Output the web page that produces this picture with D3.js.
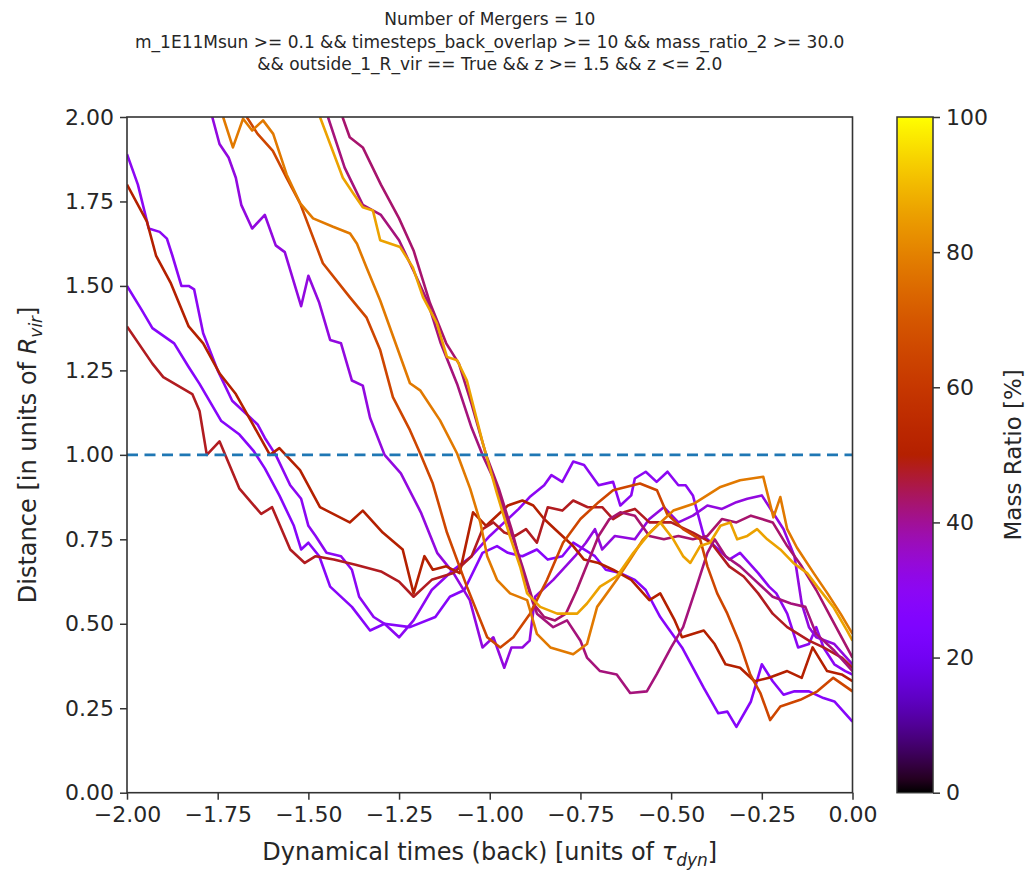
<!DOCTYPE html>
<html>
<head>
<meta charset="utf-8">
<script src="https://cdn.jsdelivr.net/npm/d3@7"></script>
<style>
  body { margin: 0; background: #fff; }
  text { font-family: "DejaVu Sans", sans-serif; fill: #262626; }
</style>
</head>
<body>
<div id="chart"></div>
<script>
var titleLines = [
    "Number of Mergers = 10",
    "m_1E11Msun >= 0.1 && timesteps_back_overlap >= 10 && mass_ratio_2 >= 30.0",
    "&& outside_1_R_vir == True && z >= 1.5 && z <= 2.0"
];

var xTicks = [-2.00, -1.75, -1.50, -1.25, -1.00, -0.75, -0.50, -0.25, 0.00];
var yTicks = [0.00, 0.25, 0.50, 0.75, 1.00, 1.25, 1.50, 1.75, 2.00];
var cbarTicks = [0, 20, 40, 60, 80, 100];
var thresholdLine = 1.0;

// mass ratio [%] of each merger, same order as the tracks below
var massRatios = [30, 28, 33, 50, 48, 42, 43, 65, 78, 86];

// [time back, distance] for each merger
var trackP1 = [[-2.00,1.89],[-1.97,1.80],[-1.94,1.67],[-1.91,1.66],[-1.89,1.64],[-1.875,1.59],[-1.85,1.50],[-1.83,1.50],[-1.815,1.49],[-1.79,1.36],[-1.75,1.25],[-1.71,1.16],[-1.67,1.12],[-1.64,1.09],[-1.62,1.05],[-1.59,1.00],[-1.55,0.91],[-1.52,0.87],[-1.50,0.79],[-1.48,0.76],[-1.45,0.71],[-1.41,0.70],[-1.38,0.66],[-1.36,0.58],[-1.32,0.52],[-1.29,0.50],[-1.25,0.46],[-1.21,0.51],[-1.16,0.60],[-1.10,0.66],[-1.05,0.70],[-1.00,0.76],[-0.96,0.80],[-0.92,0.84],[-0.89,0.875],[-0.85,0.91],[-0.83,0.94],[-0.80,0.92],[-0.77,0.98],[-0.74,0.97],[-0.70,0.91],[-0.66,0.92],[-0.64,0.85],[-0.61,0.88],[-0.60,0.93],[-0.57,0.95],[-0.54,0.92],[-0.51,0.95],[-0.48,0.91],[-0.46,0.91],[-0.44,0.88],[-0.41,0.76],[-0.38,0.73],[-0.34,0.69],[-0.31,0.71],[-0.26,0.65],[-0.23,0.61],[-0.21,0.59],[-0.18,0.53],[-0.15,0.43],[-0.12,0.44],[-0.10,0.49],[-0.08,0.43],[-0.05,0.38],[-0.02,0.36],[0.00,0.35]];
var trackP2 = [[-2.00,1.50],[-1.96,1.43],[-1.93,1.375],[-1.87,1.33],[-1.83,1.26],[-1.80,1.21],[-1.74,1.10],[-1.69,1.06],[-1.65,1.01],[-1.62,0.96],[-1.58,0.88],[-1.54,0.79],[-1.52,0.72],[-1.50,0.74],[-1.47,0.70],[-1.44,0.61],[-1.38,0.55],[-1.33,0.48],[-1.29,0.50],[-1.22,0.49],[-1.15,0.52],[-1.11,0.58],[-1.07,0.60],[-1.02,0.71],[-0.98,0.73],[-0.95,0.71],[-0.91,0.70],[-0.87,0.72],[-0.84,0.69],[-0.80,0.70],[-0.77,0.74],[-0.74,0.72],[-0.71,0.70],[-0.68,0.66],[-0.64,0.65],[-0.60,0.63],[-0.57,0.60],[-0.53,0.52],[-0.51,0.49],[-0.47,0.43],[-0.44,0.37],[-0.41,0.31],[-0.37,0.235],[-0.345,0.24],[-0.32,0.195],[-0.28,0.27],[-0.25,0.38],[-0.22,0.33],[-0.19,0.29],[-0.16,0.30],[-0.12,0.30],[-0.08,0.28],[-0.05,0.27],[0.00,0.21]];
var trackP3 = [[-1.765,2.00],[-1.745,1.92],[-1.72,1.88],[-1.70,1.82],[-1.685,1.74],[-1.655,1.67],[-1.62,1.71],[-1.59,1.62],[-1.565,1.60],[-1.52,1.44],[-1.50,1.53],[-1.47,1.45],[-1.44,1.34],[-1.41,1.33],[-1.38,1.22],[-1.35,1.205],[-1.33,1.11],[-1.29,1.00],[-1.245,0.945],[-1.19,0.83],[-1.145,0.71],[-1.10,0.65],[-1.055,0.57],[-1.02,0.43],[-0.99,0.46],[-0.96,0.37],[-0.94,0.43],[-0.91,0.43],[-0.89,0.45],[-0.875,0.58],[-0.825,0.63],[-0.765,0.70],[-0.735,0.74],[-0.71,0.78],[-0.69,0.72],[-0.655,0.76],[-0.60,0.75],[-0.56,0.81],[-0.52,0.845],[-0.48,0.80],[-0.44,0.82],[-0.40,0.85],[-0.36,0.84],[-0.32,0.86],[-0.29,0.87],[-0.25,0.88],[-0.22,0.83],[-0.19,0.78],[-0.16,0.70],[-0.14,0.56],[-0.12,0.49],[-0.10,0.46],[-0.05,0.44],[0.00,0.38]];
var trackR1 = [[-2.00,1.80],[-1.945,1.69],[-1.92,1.59],[-1.88,1.51],[-1.83,1.38],[-1.79,1.33],[-1.744,1.24],[-1.70,1.18],[-1.653,1.09],[-1.606,1.00],[-1.58,1.02],[-1.523,0.955],[-1.468,0.845],[-1.386,0.80],[-1.35,0.835],[-1.295,0.77],[-1.24,0.72],[-1.21,0.59],[-1.18,0.70],[-1.157,0.66],[-1.12,0.67],[-1.083,0.65],[-1.046,0.83],[-1.01,0.79],[-0.97,0.83],[-0.95,0.85],[-0.91,0.865],[-0.88,0.85],[-0.85,0.81],[-0.82,0.78],[-0.77,0.73],[-0.74,0.69],[-0.70,0.68],[-0.66,0.66],[-0.61,0.63],[-0.56,0.57],[-0.53,0.59],[-0.49,0.51],[-0.47,0.46],[-0.41,0.48],[-0.38,0.44],[-0.35,0.38],[-0.31,0.37],[-0.27,0.33],[-0.23,0.34],[-0.18,0.36],[-0.14,0.34],[-0.11,0.43],[-0.07,0.36],[-0.03,0.35],[0.00,0.33]];
var trackR2 = [[-2.00,1.38],[-1.93,1.27],[-1.90,1.23],[-1.82,1.18],[-1.80,1.13],[-1.78,1.00],[-1.745,1.04],[-1.69,0.90],[-1.63,0.825],[-1.60,0.845],[-1.55,0.72],[-1.51,0.68],[-1.48,0.70],[-1.43,0.69],[-1.37,0.675],[-1.30,0.655],[-1.25,0.625],[-1.21,0.58],[-1.16,0.63],[-1.10,0.65],[-1.05,0.70],[-1.02,0.78],[-0.99,0.80],[-0.96,0.77],[-0.93,0.76],[-0.90,0.78],[-0.87,0.74],[-0.84,0.845],[-0.80,0.835],[-0.77,0.865],[-0.73,0.845],[-0.69,0.845],[-0.66,0.81],[-0.63,0.83],[-0.60,0.84],[-0.56,0.80],[-0.50,0.80],[-0.44,0.77],[-0.39,0.74],[-0.34,0.67],[-0.30,0.64],[-0.26,0.59],[-0.22,0.53],[-0.18,0.49],[-0.12,0.45],[-0.08,0.43],[-0.03,0.40],[0.00,0.37]];
var trackPL1 = [[-1.446,2.00],[-1.40,1.85],[-1.35,1.74],[-1.30,1.71],[-1.25,1.635],[-1.21,1.545],[-1.17,1.45],[-1.135,1.33],[-1.09,1.21],[-1.05,1.08],[-1.02,1.00],[-0.99,0.93],[-0.95,0.80],[-0.91,0.67],[-0.87,0.53],[-0.825,0.49],[-0.787,0.51],[-0.75,0.45],[-0.732,0.40],[-0.696,0.36],[-0.65,0.35],[-0.613,0.295],[-0.567,0.30],[-0.54,0.35],[-0.50,0.43],[-0.467,0.49],[-0.43,0.61],[-0.40,0.71],[-0.38,0.75],[-0.35,0.70],[-0.31,0.67],[-0.27,0.63],[-0.22,0.58],[-0.17,0.56],[-0.13,0.55],[-0.10,0.47],[-0.05,0.42],[0.00,0.36]];
var trackPL2 = [[-1.406,2.00],[-1.386,1.94],[-1.35,1.91],[-1.30,1.80],[-1.25,1.70],[-1.21,1.605],[-1.165,1.45],[-1.12,1.33],[-1.085,1.27],[-1.05,1.15],[-1.01,1.00],[-0.975,0.90],[-0.94,0.78],[-0.91,0.66],[-0.88,0.56],[-0.85,0.52],[-0.82,0.51],[-0.79,0.53],[-0.76,0.60],[-0.73,0.68],[-0.70,0.76],[-0.67,0.81],[-0.64,0.83],[-0.60,0.82],[-0.56,0.76],[-0.52,0.75],[-0.48,0.76],[-0.44,0.75],[-0.40,0.76],[-0.36,0.81],[-0.32,0.80],[-0.28,0.82],[-0.25,0.81],[-0.22,0.80],[-0.18,0.73],[-0.14,0.67],[-0.10,0.60],[-0.06,0.52],[-0.03,0.46],[0.00,0.40]];
var trackO1 = [[-1.67,2.00],[-1.64,1.95],[-1.598,1.90],[-1.56,1.82],[-1.523,1.745],[-1.46,1.567],[-1.386,1.467],[-1.34,1.407],[-1.302,1.31],[-1.267,1.171],[-1.22,1.073],[-1.192,1.005],[-1.157,0.915],[-1.118,0.77],[-1.063,0.61],[-1.007,0.46],[-0.971,0.43],[-0.935,0.46],[-0.889,0.53],[-0.842,0.63],[-0.798,0.74],[-0.75,0.81],[-0.70,0.86],[-0.66,0.895],[-0.586,0.915],[-0.539,0.895],[-0.511,0.825],[-0.467,0.78],[-0.42,0.75],[-0.40,0.67],[-0.373,0.59],[-0.345,0.53],[-0.31,0.44],[-0.282,0.35],[-0.254,0.295],[-0.227,0.215],[-0.199,0.255],[-0.144,0.275],[-0.097,0.30],[-0.053,0.34],[0.00,0.30]];
var trackO2 = [[-1.735,2.00],[-1.708,1.91],[-1.68,1.995],[-1.655,1.96],[-1.625,1.99],[-1.597,1.95],[-1.56,1.83],[-1.523,1.745],[-1.487,1.70],[-1.432,1.675],[-1.385,1.655],[-1.366,1.625],[-1.34,1.555],[-1.302,1.457],[-1.22,1.212],[-1.192,1.191],[-1.137,1.102],[-1.09,1.004],[-1.054,0.90],[-1.026,0.80],[-1.007,0.70],[-0.98,0.63],[-0.944,0.59],[-0.897,0.57],[-0.87,0.47],[-0.833,0.43],[-0.77,0.41],[-0.732,0.44],[-0.704,0.55],[-0.65,0.63],[-0.613,0.69],[-0.577,0.75],[-0.539,0.79],[-0.494,0.835],[-0.438,0.855],[-0.364,0.905],[-0.31,0.925],[-0.246,0.935],[-0.218,0.815],[-0.199,0.875],[-0.18,0.78],[-0.153,0.725],[-0.107,0.65],[-0.069,0.59],[-0.033,0.53],[0.00,0.47]];
var trackO3 = [[-1.468,2.00],[-1.405,1.82],[-1.377,1.775],[-1.35,1.733],[-1.322,1.723],[-1.302,1.635],[-1.247,1.615],[-1.212,1.555],[-1.184,1.467],[-1.146,1.39],[-1.118,1.29],[-1.09,1.28],[-1.063,1.22],[-1.019,1.034],[-0.98,0.885],[-0.944,0.757],[-0.916,0.668],[-0.897,0.59],[-0.861,0.55],[-0.814,0.53],[-0.759,0.53],[-0.732,0.56],[-0.696,0.61],[-0.65,0.64],[-0.604,0.71],[-0.558,0.77],[-0.53,0.80],[-0.494,0.75],[-0.467,0.70],[-0.447,0.68],[-0.42,0.73],[-0.393,0.74],[-0.364,0.79],[-0.337,0.80],[-0.318,0.75],[-0.29,0.76],[-0.263,0.78],[-0.235,0.75],[-0.199,0.72],[-0.163,0.68],[-0.125,0.65],[-0.097,0.61],[-0.053,0.55],[-0.015,0.48],[0.00,0.45]];

var tracks = [trackP1, trackP2, trackP3, trackR1, trackR2, trackPL1, trackPL2, trackO1, trackO2, trackO3];

var width = 1036,
    height = 874,
    margin = {top: 117, right: 184, bottom: 81, left: 127};

// matplotlib "gnuplot" colormap
function gnuplot(t) {
    var r = Math.sqrt(t),
        g = t * t * t,
        b = Math.max(0, Math.min(1, Math.sin(2 * Math.PI * t)));
    return d3.rgb(r * 255, g * 255, b * 255).formatHex();
}

var xScale = d3.scaleLinear().domain([-2, 0]).range([margin.left, width - margin.right + 0.5]);
var yScale = d3.scaleLinear().domain([0, 2]).range([height - margin.bottom - 0.3, margin.top]);
var colorScale = d3.scaleLinear().domain([0, 100]).range([0, 1]);
var cbarScale = d3.scaleLinear().domain([0, 100]).range([yScale(0), yScale(2)]);

var svg = d3.select("#chart").append("svg")
    .attr("width", width)
    .attr("height", height);

svg.append("defs").append("clipPath").attr("id", "plotClip")
    .append("rect")
    .attr("x", xScale(-2)).attr("y", yScale(2))
    .attr("width", xScale(0) - xScale(-2))
    .attr("height", yScale(0) - yScale(2));

// title
svg.append("g").selectAll("text")
    .data(titleLines)
    .enter().append("text")
    .attr("x", (xScale(-2) + xScale(0)) / 2)
    .attr("y", function(d, i) { return 25 + i * 22.5; })
    .attr("text-anchor", "middle")
    .style("font-size", "17px")
    .text(function(d) { return d; });

// tracks
var line = d3.line()
    .x(function(d) { return xScale(d[0]); })
    .y(function(d) { return yScale(d[1]); });

svg.append("g").attr("clip-path", "url(#plotClip)")
    .selectAll("path")
    .data(tracks)
    .enter().append("path")
    .attr("d", line)
    .attr("fill", "none")
    .attr("stroke", function(d, i) { return gnuplot(colorScale(massRatios[i])); })
    .attr("stroke-width", 2.6)
    .attr("stroke-linejoin", "round");

// R_vir threshold
svg.append("line")
    .attr("x1", xScale(-2)).attr("x2", xScale(0))
    .attr("y1", yScale(thresholdLine)).attr("y2", yScale(thresholdLine))
    .attr("stroke", "#1f77b4")
    .attr("stroke-width", 2.8)
    .attr("stroke-dasharray", "11,6.5");

// axes
var xAxis = d3.axisBottom(xScale).tickValues(xTicks).tickFormat(d3.format(".2f")).tickSize(7).tickPadding(7);
var yAxis = d3.axisLeft(yScale).tickValues(yTicks).tickFormat(d3.format(".2f")).tickSize(7).tickPadding(6);

var gx = svg.append("g").attr("transform", "translate(0," + yScale(0) + ")").call(xAxis);
var gy = svg.append("g").attr("transform", "translate(" + xScale(-2) + ",0)").call(yAxis);
[gx, gy].forEach(function(g) {
    g.select(".domain").remove();
    g.selectAll("line").attr("stroke", "#333").attr("stroke-width", 1.5);
    g.selectAll("text").style("font-size", "22px").attr("fill", "#262626");
});
gx.selectAll("text").text(function(d) { return d3.format(".2f")(d).replace("-", "\u2212"); });

// frame
svg.append("rect")
    .attr("x", xScale(-2)).attr("y", yScale(2))
    .attr("width", xScale(0) - xScale(-2))
    .attr("height", yScale(0) - yScale(2))
    .attr("fill", "none")
    .attr("stroke", "#333")
    .attr("stroke-width", 1.6);

// axis labels
var xLabel = svg.append("text")
    .attr("x", (xScale(-2) + xScale(0)) / 2)
    .attr("y", 860)
    .attr("text-anchor", "middle")
    .style("font-size", "24px");
xLabel.append("tspan").text("Dynamical times (back) [units of ");
xLabel.append("tspan").style("font-style", "italic").text("\u03c4");
xLabel.append("tspan").attr("dy", 6).style("font-size", "17px").style("font-style", "italic").text("dyn");
xLabel.append("tspan").attr("dy", -6).text("]");

var yLabel = svg.append("text")
    .attr("transform", "translate(36," + (yScale(2) + yScale(0)) / 2 + ") rotate(-90)")
    .attr("text-anchor", "middle")
    .style("font-size", "24px");
yLabel.append("tspan").text("Distance [in units of ");
yLabel.append("tspan").style("font-style", "italic").text("R");
yLabel.append("tspan").attr("dy", 6).style("font-size", "17px").style("font-style", "italic").text("vir");
yLabel.append("tspan").attr("dy", -6).text("]");

// colorbar
var cbX = 897, cbW = 36;
var grad = svg.select("defs").append("linearGradient")
    .attr("id", "cbGrad")
    .attr("x1", 0).attr("y1", 1).attr("x2", 0).attr("y2", 0);
grad.selectAll("stop")
    .data(d3.range(0, 1.0001, 0.02))
    .enter().append("stop")
    .attr("offset", function(d) { return d; })
    .attr("stop-color", function(d) { return gnuplot(d); });

svg.append("rect")
    .attr("x", cbX).attr("y", cbarScale(100))
    .attr("width", cbW).attr("height", cbarScale(0) - cbarScale(100))
    .attr("fill", "url(#cbGrad)")
    .attr("stroke", "#333")
    .attr("stroke-width", 1.5);

var cAxis = d3.axisRight(cbarScale).tickValues(cbarTicks).tickSize(7).tickPadding(6);
var gc = svg.append("g").attr("transform", "translate(" + (cbX + cbW) + ",0)").call(cAxis);
gc.select(".domain").remove();
gc.selectAll("line").attr("stroke", "#333").attr("stroke-width", 1.5);
gc.selectAll("text").style("font-size", "22px").attr("fill", "#262626");

svg.append("text")
    .attr("transform", "translate(1021," + (yScale(2) + yScale(0)) / 2 + ") rotate(-90)")
    .attr("text-anchor", "middle")
    .style("font-size", "23px")
    .text("Mass Ratio [%]");
</script>
</body>
</html>
